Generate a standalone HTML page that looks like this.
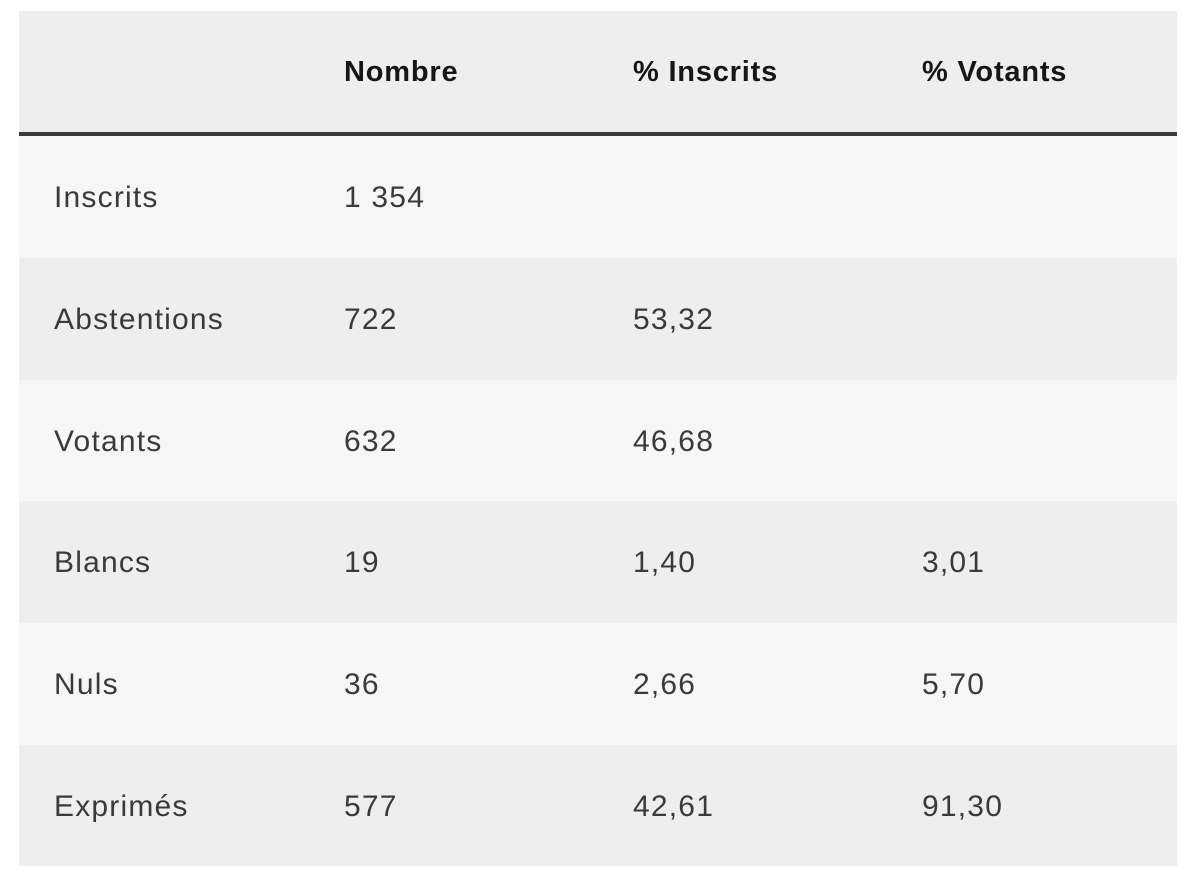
<!DOCTYPE html>
<html><head><meta charset="utf-8"><style>
body{margin:0;width:1200px;height:891px;background:#fff;font-family:"Liberation Sans",sans-serif;position:relative;overflow:hidden}
.r{position:absolute;left:19px;width:1158px}
.c{position:absolute;top:2px;bottom:0;display:flex;align-items:center;font-size:30px;color:#3a3a3a;letter-spacing:1.2px}
.h .c{font-weight:bold;color:#161616;font-size:29px;letter-spacing:0.8px}
</style></head><body>
<div class="r h" style="top:11px;height:121px;background:#eeeeee">
<div class="c" style="left:325px">Nombre</div><div class="c" style="left:614px">% Inscrits</div><div class="c" style="left:903px">% Votants</div></div>
<div class="r" style="top:132px;height:4px;background:#3a3a3a"></div>
<div class="r" style="top:136px;height:122px;background:#f6f6f6"><div class="c" style="left:35px">Inscrits</div><div class="c" style="left:325px">1 354</div></div>
<div class="r" style="top:258px;height:122px;background:#eeeeee"><div class="c" style="left:35px">Abstentions</div><div class="c" style="left:325px">722</div><div class="c" style="left:614px">53,32</div></div>
<div class="r" style="top:380px;height:121px;background:#f6f6f6"><div class="c" style="left:35px">Votants</div><div class="c" style="left:325px">632</div><div class="c" style="left:614px">46,68</div></div>
<div class="r" style="top:501px;height:122px;background:#eeeeee"><div class="c" style="left:35px">Blancs</div><div class="c" style="left:325px">19</div><div class="c" style="left:614px">1,40</div><div class="c" style="left:903px">3,01</div></div>
<div class="r" style="top:623px;height:122px;background:#f6f6f6"><div class="c" style="left:35px">Nuls</div><div class="c" style="left:325px">36</div><div class="c" style="left:614px">2,66</div><div class="c" style="left:903px">5,70</div></div>
<div class="r" style="top:745px;height:121px;background:#eeeeee"><div class="c" style="left:35px">Exprimés</div><div class="c" style="left:325px">577</div><div class="c" style="left:614px">42,61</div><div class="c" style="left:903px">91,30</div></div>
</body></html>
